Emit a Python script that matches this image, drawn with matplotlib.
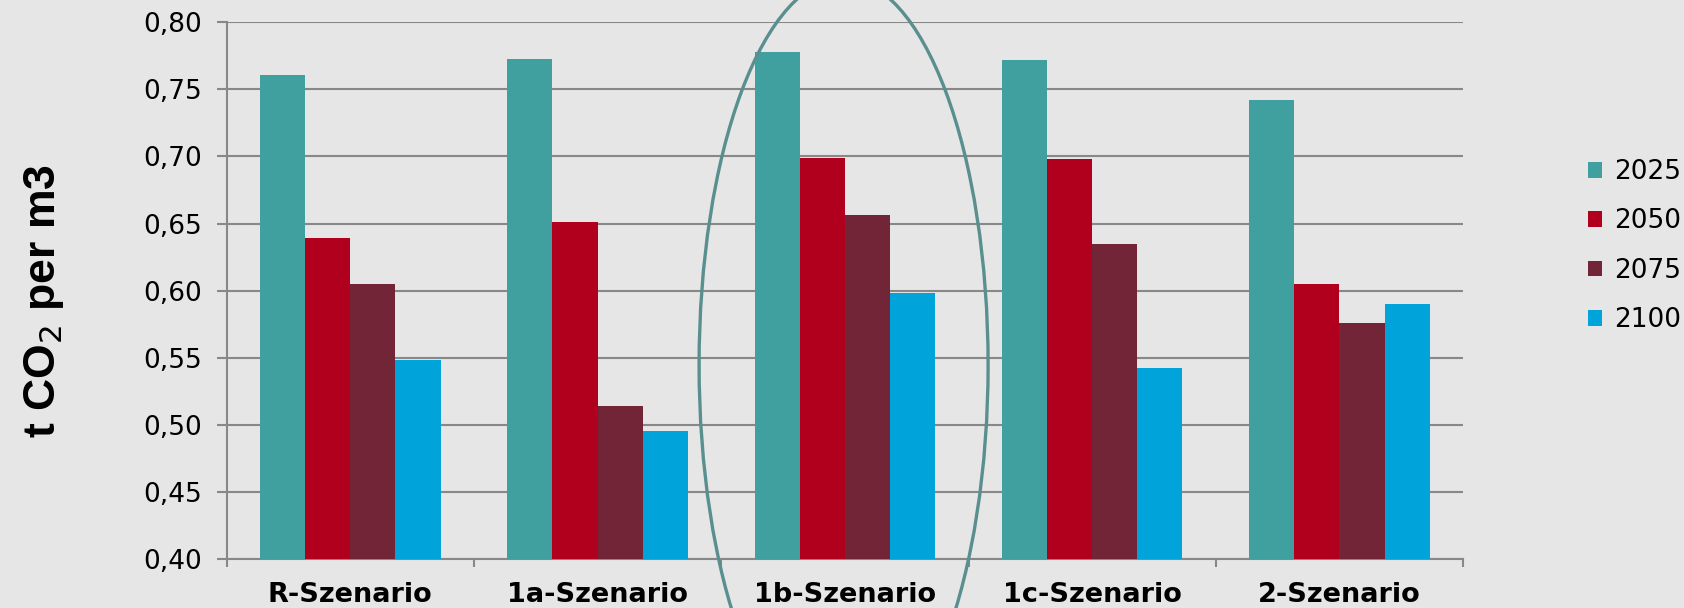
import matplotlib.pyplot as plt
from matplotlib.patches import Ellipse
import numpy as np

# scenarios and values (t CO2 per m3)
scenarios = ["R-Szenario", "1a-Szenario", "1b-Szenario", "1c-Szenario", "2-Szenario"]
years = ["2025", "2050", "2075", "2100"]
v2025 = [0.761, 0.773, 0.778, 0.772, 0.742]
v2050 = [0.639, 0.651, 0.699, 0.698, 0.605]
v2075 = [0.605, 0.514, 0.656, 0.635, 0.576]
v2100 = [0.548, 0.495, 0.598, 0.542, 0.590]
colors = ["#40a09f", "#b0001e", "#722536", "#00a3da"]
yticks = [0.40, 0.45, 0.50, 0.55, 0.60, 0.65, 0.70, 0.75, 0.80]

bg = "#e6e6e6"
fig = plt.figure(figsize=(16.84, 6.08), dpi=100, facecolor=bg)
ax = fig.add_axes([0.1346, 0.0814, 0.8688 - 0.1346, 0.963 - 0.0814], facecolor=bg)

x = np.arange(len(scenarios))
w = 0.1826
series = [v2025, v2050, v2075, v2100]
for i, (vals, c, lab) in enumerate(zip(series, colors, years)):
    ax.bar(x + (i - 1.5) * w, np.array(vals) - 0.40, w, bottom=0.40, color=c,
           label=lab, zorder=3)

ax.set_ylim(0.40, 0.80)
ax.set_xlim(-0.5, 4.5)
ax.set_yticks(yticks)
ax.set_yticklabels([f"{t:.2f}".replace(".", ",") for t in yticks],
                   fontsize=19, family="DejaVu Sans")
ax.yaxis.grid(True, color="#888888", lw=1.5, zorder=1)

ax.set_xticks(np.arange(-0.5, 5, 1))
ax.set_xticklabels([])
ax.set_xticks(x, minor=True)
ax.set_xticklabels(scenarios, minor=True, fontsize=19.5, fontweight="bold",
                   family="DejaVu Sans")
ax.tick_params(axis="x", which="minor", length=0, pad=17)
ax.tick_params(axis="x", which="major", length=6, width=1.5, color="#888888",
               direction="out")
ax.tick_params(axis="y", length=7, width=1.5, color="#888888", pad=11)

for s in ["top", "right"]:
    ax.spines[s].set_visible(False)
for s in ["left", "bottom"]:
    ax.spines[s].set_color("#888888")
    ax.spines[s].set_linewidth(1.5)

fig.text(0.026, 0.505, "t CO$_2$ per m3", rotation=90, ha="center", va="center",
         fontsize=32, fontweight="bold", family="Liberation Sans")

leg = fig.legend(loc="upper left", bbox_to_anchor=(0.935, 0.76), frameon=False,
                 handlelength=0.55, handleheight=0.55, borderpad=0,
                 handletextpad=0.45, labelspacing=0.885,
                 prop={"family": "DejaVu Sans", "size": 19})

# highlight ellipse around 1b-Szenario
ell = Ellipse((8.436, 2.43), 2.89, 7.73, transform=fig.dpi_scale_trans,
              fill=False, edgecolor="#5a8f8f", lw=2.4, zorder=5)
fig.add_artist(ell)

fig.savefig("out.png", dpi=100, facecolor=bg)
